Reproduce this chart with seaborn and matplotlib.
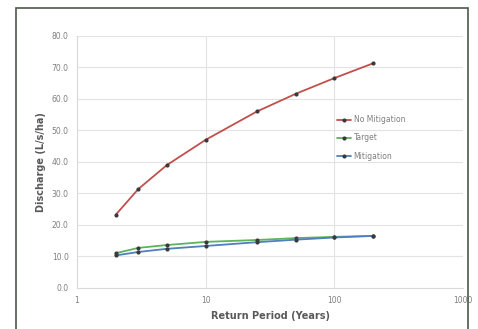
import matplotlib
matplotlib.use("Agg")
import matplotlib.pyplot as plt
from matplotlib.patches import Rectangle
from matplotlib.ticker import FixedLocator, FuncFormatter
import pandas as pd
import seaborn as sns

# valores
periodo = [2, 3, 5, 10, 25, 50, 100, 200]
sem_mitigacao = [23.2, 31.4, 39.0, 47.0, 56.0, 61.6, 66.6, 71.3]
alvo = [11.0, 12.7, 13.6, 14.6, 15.2, 15.8, 16.2, 16.5]
mitigacao = [10.3, 11.4, 12.4, 13.3, 14.5, 15.3, 16.0, 16.5]
series = ["No Mitigation", "Target", "Mitigation"]

df = pd.DataFrame({
    "periodo": periodo * 3,
    "valor": sem_mitigacao + alvo + mitigacao,
    "serie": [series[0]] * len(periodo) + [series[1]] * len(periodo) + [series[2]] * len(periodo),
})

cores = {"No Mitigation": "#c0504d", "Target": "#5cb45c", "Mitigation": "#4f7fbd"}

sns.set_style("white")
fig = plt.figure(figsize=(4.78, 3.29), dpi=100)
ax = fig.add_axes([0.161, 0.125, 0.808, 0.766])

sns.lineplot(data=df, x="periodo", y="valor", hue="serie", palette=cores,
             marker="o", markersize=3, markeredgewidth=0, linewidth=1.3, ax=ax)
for linha in ax.lines:
    linha.set_markerfacecolor("#3a3a3a")

ax.set_xscale("log")
ax.set_xlim(1, 1000)
ax.set_ylim(0, 80)
ax.xaxis.set_major_locator(FixedLocator([1, 10, 100, 1000]))
ax.xaxis.set_minor_locator(FixedLocator([]))
ax.xaxis.set_major_formatter(FuncFormatter(lambda v, p: f"{v:g}"))
ax.set_yticks(range(0, 81, 10))
ax.yaxis.set_major_formatter(FuncFormatter(lambda v, p: f"{v:.1f}"))
ax.tick_params(labelsize=5.5, colors="#7f7f7f", length=0, pad=6)
ax.grid(True, color="#e3e3e3", linewidth=0.8)
for lado in ["top", "right"]:
    ax.spines[lado].set_visible(False)
ax.spines["left"].set_color("#d9d9d9")
ax.spines["bottom"].set_color("#d9d9d9")

ax.set_xlabel("Return Period (Years)", fontsize=7, fontweight="bold", color="#595959")
ax.set_ylabel("Discharge (L/s/ha)", fontsize=7, fontweight="bold", color="#595959")

leg = ax.legend(loc="center left", bbox_to_anchor=(0.655, 0.595), frameon=False,
                fontsize=5.5, handlelength=1.8, handletextpad=0.4, labelspacing=1.2)
for t in leg.get_texts():
    t.set_color("#7f7f7f")

# moldura do grafico
fig.patches.append(Rectangle((0.033, -0.05), 0.946, 1.025, transform=fig.transFigure,
                             fill=False, edgecolor="#4a5a4a", linewidth=1.2))

fig.savefig("out.png", dpi=100)
